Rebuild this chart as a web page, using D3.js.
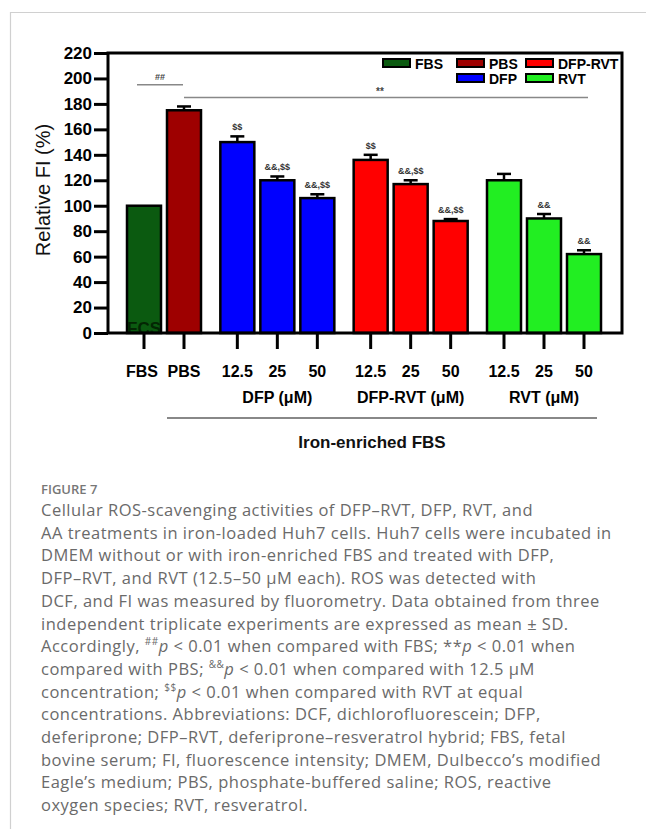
<!DOCTYPE html>
<html>
<head>
<meta charset="utf-8">
<script src="https://cdn.jsdelivr.net/npm/d3@7/dist/d3.min.js"></script>
<style>
  body { margin: 0; background: #fff; }
  svg { display: block; }
</style>
</head>
<body>
<svg id="fig" width="646" height="829"></svg>
<script>
// ---- data ----
const xLabels   = ["FBS", "PBS", "12.5", "25", "50", "12.5", "25", "50", "12.5", "25", "50"];
const barGroup  = [0, 0, 1, 1, 1, 2, 2, 2, 3, 3, 3];
const barSeries = ["FBS", "PBS", "DFP", "DFP", "DFP", "DFP-RVT", "DFP-RVT", "DFP-RVT", "RVT", "RVT", "RVT"];
const means     = [100, 175, 150, 120, 106, 136, 117, 88, 120, 90, 62];
const sds       = [0, 3, 4.5, 3, 3, 4, 3, 1.5, 5, 3.5, 3];
const marks     = ["", "", "$$", "&&,$$", "&&,$$", "$$", "&&,$$", "&&,$$", "", "&&", "&&"];
const groupTitles = ["DFP (\u03bcM)", "DFP-RVT (\u03bcM)", "RVT (\u03bcM)"];
const seriesNames  = ["FBS", "PBS", "DFP", "DFP-RVT", "RVT"];
const seriesColors = ["#0b5a10", "#9e0000", "#0000ff", "#ff0000", "#22ee22"];
const yTicks = d3.range(0, 221, 20);

const caption = [
  "Cellular ROS-scavenging activities of DFP\u2013RVT, DFP, RVT, and",
  "AA treatments in iron-loaded Huh7 cells. Huh7 cells were incubated in",
  "DMEM without or with iron-enriched FBS and treated with DFP,",
  "DFP\u2013RVT, and RVT (12.5\u201350 \u03bcM each). ROS was detected with",
  "DCF, and FI was measured by fluorometry. Data obtained from three",
  "independent triplicate experiments are expressed as mean \u00b1 SD.",
  "Accordingly, {##}[p] < 0.01 when compared with FBS; **[p] < 0.01 when",
  "compared with PBS; {&&}[p] < 0.01 when compared with 12.5 \u03bcM",
  "concentration; {$$}[p] < 0.01 when compared with RVT at equal",
  "concentrations. Abbreviations: DCF, dichlorofluorescein; DFP,",
  "deferiprone; DFP\u2013RVT, deferiprone\u2013resveratrol hybrid; FBS, fetal",
  "bovine serum; FI, fluorescence intensity; DMEM, Dulbecco\u2019s modified",
  "Eagle\u2019s medium; PBS, phosphate-buffered saline; ROS, reactive",
  "oxygen species; RVT, resveratrol."
];

// ---- setup ----
const svg = d3.select("#fig");
svg.append("rect").attr("width", 646).attr("height", 829).attr("fill", "#fff");

// page frame
svg.append("path").attr("d", "M10.5,829 V12.5 H646")
  .attr("fill", "none").attr("stroke", "#d0d0d0").attr("stroke-width", 1.2);

const color = d3.scaleOrdinal().domain(seriesNames).range(seriesColors);
const slot = i => i + barGroup[i] / 3;
const x = d3.scaleLinear().domain([0, 11]).range([144, 584]);
const y = d3.scaleLinear().domain([0, 220]).range([333, 53]);
const plotLeft = 108, plotRight = 622;
const barW = 34;
const FONT = "Liberation Sans, Arial, sans-serif";

const data = means.map((m, i) => ({i, m, sd: sds[i], s: barSeries[i], label: xLabels[i], mark: marks[i], cx: x(slot(i))}));

// bars
const g = svg.append("g");
g.selectAll(".bar").data(data).enter().append("rect")
  .attr("x", d => d.cx - barW / 2)
  .attr("y", d => y(d.m))
  .attr("width", barW)
  .attr("height", d => y(0) - y(d.m))
  .attr("fill", d => color(d.s))
  .attr("stroke", "#000")
  .attr("stroke-width", 2.5);

// leftover "FCS" text inside FBS bar
svg.append("clipPath").attr("id", "fcsClip").append("rect")
  .attr("x", data[0].cx - barW / 2 + 1).attr("y", y(data[0].m)).attr("width", barW - 2).attr("height", y(0) - y(data[0].m));
svg.append("text").attr("clip-path", "url(#fcsClip)")
  .attr("x", data[0].cx).attr("y", y(0) + 1).attr("text-anchor", "middle")
  .attr("font-family", FONT).attr("font-weight", "bold").attr("font-size", 17)
  .attr("fill", "#032603").text("FCS");

// error bars (upper half)
const eb = g.selectAll(".eb").data(data.filter(d => d.sd > 0)).enter().append("g");
eb.append("line").attr("x1", d => d.cx).attr("x2", d => d.cx)
  .attr("y1", d => y(d.m)).attr("y2", d => y(d.m + d.sd))
  .attr("stroke", "#000").attr("stroke-width", 2.5);
eb.append("line").attr("x1", d => d.cx - 7).attr("x2", d => d.cx + 7)
  .attr("y1", d => y(d.m + d.sd)).attr("y2", d => y(d.m + d.sd))
  .attr("stroke", "#000").attr("stroke-width", 2.5);

// significance marks over bars
g.selectAll(".mk").data(data.filter(d => d.mark)).enter().append("text")
  .attr("x", d => d.cx).attr("y", d => y(d.m + d.sd) - 6)
  .attr("text-anchor", "middle")
  .attr("font-family", FONT).attr("font-weight", "bold").attr("font-size", 9)
  .attr("fill", "#333").text(d => d.mark);

// comparison lines
const cmp = svg.append("g").attr("stroke", "#888").attr("stroke-width", 1.5);
cmp.append("line").attr("x1", data[0].cx - 7).attr("x2", data[1].cx - 1).attr("y1", y(195)).attr("y2", y(195));
cmp.append("line").attr("x1", data[1].cx).attr("x2", data[10].cx + 4).attr("y1", y(185)).attr("y2", y(185));
svg.append("text").attr("x", (data[0].cx + data[1].cx) / 2 - 4).attr("y", y(195) - 5).attr("text-anchor", "middle")
  .attr("font-family", FONT).attr("font-weight", "bold").attr("font-size", 9)
  .attr("fill", "#444").text("##");
svg.append("text").attr("x", 380).attr("y", y(185) - 3).attr("text-anchor", "middle")
  .attr("font-family", FONT).attr("font-weight", "bold").attr("font-size", 10)
  .attr("fill", "#444").text("**");

// plot box
svg.append("rect").attr("x", plotLeft).attr("y", y(220)).attr("width", plotRight - plotLeft).attr("height", y(0) - y(220))
  .attr("fill", "none").attr("stroke", "#000").attr("stroke-width", 3);

// y axis
const yAxis = svg.append("g").attr("transform", `translate(${plotLeft},0)`)
  .call(d3.axisLeft(y).tickValues(yTicks).tickSize(14).tickPadding(2));
yAxis.select(".domain").remove();
yAxis.selectAll(".tick line").attr("stroke", "#000").attr("stroke-width", 3);
yAxis.selectAll(".tick text").attr("font-family", FONT)
  .attr("font-weight", "bold").attr("font-size", 17).attr("fill", "#000");

svg.append("text").attr("transform", "translate(50,190) rotate(-90)").attr("text-anchor", "middle")
  .attr("font-family", FONT).attr("font-size", 20).attr("fill", "#111")
  .text("Relative FI (%)");

// x ticks
svg.selectAll(".xt").data(data).enter().append("line")
  .attr("x1", d => d.cx).attr("x2", d => d.cx).attr("y1", y(0) + 1).attr("y2", y(0) + 16)
  .attr("stroke", "#000").attr("stroke-width", 3);
svg.selectAll(".xl").data(data).enter().append("text")
  .attr("x", d => d.cx - (d.i === 0 ? 2 : 0)).attr("y", 377).attr("text-anchor", "middle")
  .attr("font-family", FONT).attr("font-weight", "bold").attr("font-size", 16)
  .attr("fill", "#000").text(d => d.label);

// group titles under middle bar of each group
groupTitles.forEach((t, k) => {
  const mid = data.filter(d => barGroup[d.i] === k + 1)[1];
  svg.append("text").attr("x", mid.cx).attr("y", 403).attr("text-anchor", "middle")
    .attr("font-family", FONT).attr("font-weight", "bold").attr("font-size", 16)
    .attr("fill", "#000").text(t);
});

// iron-enriched bracket
svg.append("line").attr("x1", 167).attr("x2", 597).attr("y1", 418).attr("y2", 418)
  .attr("stroke", "#888").attr("stroke-width", 2);
svg.append("text").attr("x", 372).attr("y", 448).attr("text-anchor", "middle")
  .attr("font-family", FONT).attr("font-weight", "bold").attr("font-size", 17)
  .attr("fill", "#111").text("Iron-enriched FBS");

// legend
const legendPos = [[383, 0], [457, 0], [457, 1], [526, 0], [526, 1]];
const leg = svg.selectAll(".lg").data(seriesNames).enter().append("g")
  .attr("transform", (d, i) => `translate(${legendPos[i][0]},${59 + legendPos[i][1] * 15})`);
leg.append("rect").attr("width", 27).attr("height", 8).attr("fill", d => color(d))
  .attr("stroke", "#000").attr("stroke-width", 2);
leg.append("text").attr("x", 32).attr("y", 10)
  .attr("font-family", FONT).attr("font-weight", "bold").attr("font-size", 14)
  .attr("fill", "#000").text(d => d);

// caption
const cap = svg.append("g").attr("font-family", "Open Sans, sans-serif").attr("fill", "#6a6a6a");
cap.append("text").attr("x", 41).attr("y", 494).attr("font-size", 13).attr("font-weight", 600)
  .attr("fill", "#777").text("FIGURE 7");
caption.forEach((line, k) => {
  const t = cap.append("text").attr("x", 41).attr("y", 516 + k * 22.7)
    .attr("font-size", 16.5).attr("letter-spacing", 0.5);
  // {..} superscript, [..] italic
  line.split(/(\{[^}]*\}|\[[^\]]*\])/).forEach(part => {
    if (!part) return;
    if (part.startsWith("{")) {
      t.append("tspan").attr("font-size", 10).attr("baseline-shift", "super").text(part.slice(1, -1));
    } else if (part.startsWith("[")) {
      t.append("tspan").attr("font-style", "italic").text(part.slice(1, -1));
    } else {
      t.append("tspan").text(part);
    }
  });
});
</script>
</body>
</html>
